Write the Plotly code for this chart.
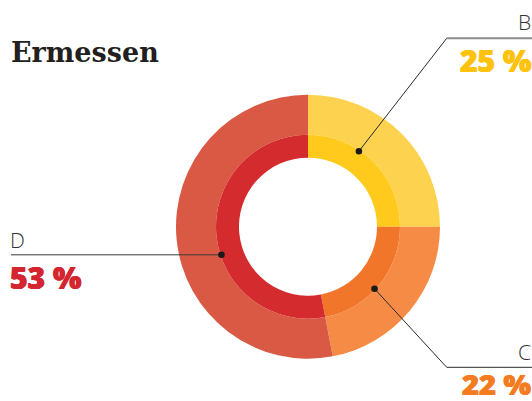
import math
import plotly.graph_objects as go

# ---- data ----
categories = ["B", "C", "D"]
values = [25, 22, 53]
pct_labels = ["25 %", "22 %", "53 %"]
title_text = "Ermessen"

# ---- style ----
outer_colors = ["#FDD24F", "#F68B45", "#D95944"]
inner_colors = ["#FFCA1B", "#F1762A", "#D42B2E"]
text_colors = ["#FFC20E", "#F47B20", "#D42630"]

W, H = 532, 401
CX, CY = 308, 226.7
R_OUT, R_MID, R_HOLE = 132, 92, 69
dot_angles = [34, 133, 252]          # degrees clockwise from 12 o'clock
R_DOT = 91


def dom(r):
    return dict(x=[(CX - r) / W, (CX + r) / W],
                y=[(H - CY - r) / H, (H - CY + r) / H])


fig = go.Figure()
fig.add_trace(go.Pie(labels=categories, values=values, sort=False,
                     direction="clockwise", rotation=0,
                     hole=R_MID / R_OUT, domain=dom(R_OUT),
                     marker=dict(colors=outer_colors, line=dict(width=0)),
                     textinfo="none", hoverinfo="label+percent",
                     showlegend=False))
fig.add_trace(go.Pie(labels=categories, values=values, sort=False,
                     direction="clockwise", rotation=0,
                     hole=R_HOLE / R_MID, domain=dom(R_MID),
                     marker=dict(colors=inner_colors, line=dict(width=0)),
                     textinfo="none", hoverinfo="label+percent",
                     showlegend=False))

# dot positions
dots = []
for a in dot_angles:
    t = math.radians(a)
    dots.append((CX + R_DOT * math.sin(t), CY - R_DOT * math.cos(t)))

shapes = []
corner_B = (446.7, 38.3)
corner_C = (446.7, 367.3)
line_D_y = dots[2][1]
shapes.append(dict(type="line", x0=dots[0][0], y0=dots[0][1], x1=corner_B[0], y1=corner_B[1],
                   line=dict(color="#2a2a2a", width=1)))
shapes.append(dict(type="line", x0=corner_B[0], y0=corner_B[1], x1=W, y1=corner_B[1],
                   line=dict(color="#8c8c8c", width=2)))
shapes.append(dict(type="line", x0=dots[1][0], y0=dots[1][1], x1=corner_C[0], y1=corner_C[1],
                   line=dict(color="#2a2a2a", width=1)))
shapes.append(dict(type="line", x0=corner_C[0], y0=corner_C[1], x1=W, y1=corner_C[1],
                   line=dict(color="#2a2a2a", width=1)))
shapes.append(dict(type="line", x0=11, y0=line_D_y, x1=dots[2][0], y1=line_D_y,
                   line=dict(color="#3a3a3a", width=1)))
for (x, y) in dots:
    r = 3.3
    shapes.append(dict(type="circle", x0=x - r, y0=y - r, x1=x + r, y1=y + r,
                       fillcolor="#1a1a1a", line=dict(width=0)))
for s in shapes:
    s.update(xref="x", yref="y", layer="above")

letter_font = dict(family="Open Sans", size=21, color="#333333", weight=300)


def pct_font(c, size=30):
    sh = ", ".join(f"{dx}px {dy}px 0 {c}" for dx, dy in
                   [(0.5, 0), (-0.5, 0)])
    return dict(family="Open Sans", size=size, weight=800, color=c, shadow=sh)


annotations = [
    dict(x=10, y=52, text=title_text, xanchor="left", yanchor="middle",
         font=dict(family="DejaVu Serif", size=27, color="#231F20", weight=700)),
    # B
    dict(x=531.5, y=22, text=categories[0], xanchor="right", yanchor="middle", font=letter_font),
    dict(x=531.5, y=60, text=pct_labels[0], xanchor="right", yanchor="middle",
         font=pct_font(text_colors[0])),
    # C
    dict(x=531.5, y=352, text=categories[1], xanchor="right", yanchor="middle", font=letter_font),
    dict(x=531.5, y=383, text=pct_labels[1], xanchor="right", yanchor="middle",
         font=pct_font(text_colors[1], 29)),
    # D
    dict(x=9, y=240, text=categories[2], xanchor="left", yanchor="middle", font=letter_font),
    dict(x=9, y=277, text=pct_labels[2], xanchor="left", yanchor="middle",
         font=pct_font(text_colors[2])),
]
for an in annotations:
    an.update(xref="x", yref="y", showarrow=False, borderpad=0)

fig.update_layout(
    width=W, height=H, margin=dict(l=0, r=0, t=0, b=0),
    paper_bgcolor="white", plot_bgcolor="rgba(0,0,0,0)",
    xaxis=dict(range=[0, W], visible=False, fixedrange=True),
    yaxis=dict(range=[H, 0], visible=False, fixedrange=True),
    shapes=shapes, annotations=annotations, showlegend=False,
)

fig.write_html("out.html", post_script="document.body.style.margin='0';",
               config={"displayModeBar": False})
